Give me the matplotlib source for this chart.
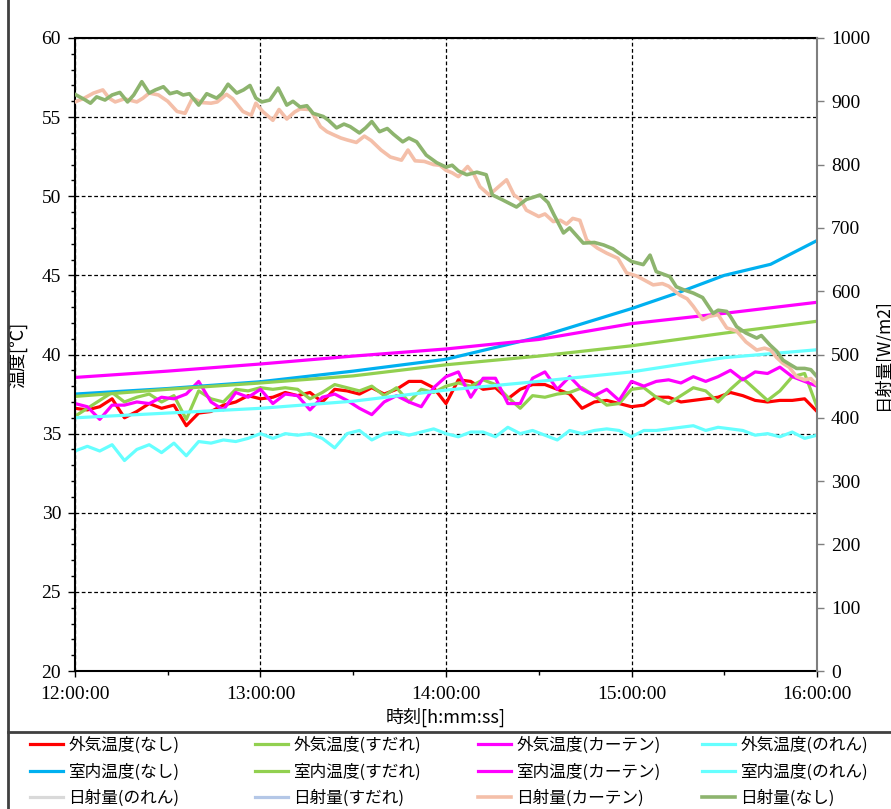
import numpy as np
import pandas as pd
import matplotlib
matplotlib.use('Agg')
import matplotlib.pyplot as plt
import matplotlib.dates as mdates
from matplotlib.lines import Line2D

cjk = ['Noto Sans CJK JP', 'DejaVu Sans']
num_font = 'Liberation Serif'

# outdoor temperatures, sampled every 4 minutes from 12:00
t_out = np.arange(0, 241, 4)
out_none = [36.6, 36.5, 36.7, 37.2, 36.0, 36.4, 36.9, 36.6, 36.8, 35.5, 36.3, 36.4, 36.8, 37.0, 37.4, 37.2,
            37.3, 37.6, 37.4, 37.6, 37.0, 37.8, 37.7, 37.5, 37.9, 37.5, 37.8, 38.3, 38.3, 37.9, 36.9, 38.4,
            38.3, 37.8, 37.9, 37.2, 37.8, 38.1, 38.1, 37.8, 37.5, 36.6, 37.0, 37.1, 36.9, 36.7, 36.8, 37.3,
            37.3, 37.0, 37.1, 37.2, 37.3, 37.6, 37.4, 37.1, 37.0, 37.1, 37.1, 37.2, 36.4]
out_sudare = [36.1, 36.6, 37.1, 37.6, 37.0, 37.3, 37.5, 37.0, 37.4, 35.9, 37.7, 37.2, 37.0, 37.8, 37.7, 37.9,
              37.8, 37.9, 37.8, 37.2, 37.6, 38.1, 37.9, 37.7, 38.0, 37.4, 37.9, 37.0, 37.8, 37.6, 38.0, 38.2,
              38.0, 38.4, 38.1, 37.3, 36.6, 37.4, 37.3, 37.5, 37.6, 37.9, 37.4, 36.8, 36.9, 37.8, 37.9, 37.3,
              36.9, 37.4, 37.9, 37.7, 37.0, 37.8, 38.5, 37.8, 37.1, 37.7, 38.6, 38.8, 36.7]
out_curtain = [36.9, 36.7, 35.9, 36.8, 36.8, 37.0, 36.9, 37.3, 37.2, 37.5, 38.3, 37.0, 36.5, 37.6, 37.3, 37.8,
               36.9, 37.5, 37.4, 36.5, 37.3, 37.5, 37.1, 36.6, 36.2, 37.0, 37.4, 37.0, 36.7, 37.9, 38.6, 38.9,
               37.3, 38.5, 38.5, 36.9, 36.9, 38.5, 38.9, 37.8, 38.6, 37.8, 37.4, 37.8, 37.1, 38.3, 38.0, 38.3,
               38.4, 38.2, 38.6, 38.3, 38.6, 39.0, 38.4, 38.9, 38.8, 39.2, 38.6, 38.3, 38.0]
out_noren = [33.9, 34.2, 33.9, 34.3, 33.3, 34.0, 34.3, 33.8, 34.4, 33.6, 34.5, 34.4, 34.6, 34.5, 34.7, 35.0,
             34.7, 35.0, 34.9, 35.0, 34.7, 34.1, 35.0, 35.2, 34.6, 35.0, 35.1, 34.9, 35.1, 35.3, 35.0, 34.8,
             35.1, 35.1, 34.8, 35.4, 35.0, 35.2, 34.9, 34.6, 35.2, 35.0, 35.2, 35.3, 35.2, 34.8, 35.2, 35.2,
             35.3, 35.4, 35.5, 35.2, 35.4, 35.3, 35.2, 34.9, 35.0, 34.8, 35.1, 34.7, 34.9]

# indoor temperatures
t_in = [0, 30, 60, 90, 120, 150, 180, 210, 240]
in_sudare = [37.35, 37.8, 38.2, 38.65, 39.35, 39.9, 40.55, 41.35, 42.1]
in_curtain = [38.55, 38.95, 39.4, 39.9, 40.35, 40.95, 41.95, 42.6, 43.3]
in_noren = [36.0, 36.3, 36.6, 37.05, 37.75, 38.3, 38.9, 39.8, 40.3]
t_in_none = [0, 30, 60, 90, 120, 150, 180, 195, 210, 225, 232, 240]
in_none = [37.5, 37.85, 38.28, 38.95, 39.7, 41.1, 42.9, 43.9, 45.0, 45.7, 46.4, 47.2]

# solar radiation [W/m2]
t_sol_none = [0, 3, 5, 7, 9.7, 12, 14.5, 17, 19, 21.6, 24, 26, 28.6, 30.7, 33, 35, 37, 40, 42.6, 45.8,
              47.5, 49.5, 52.3, 54.5, 56.6, 58.5, 60.4, 63, 65.7, 68.5, 70.5, 72.8, 75, 77, 80.3, 82, 84.6,
              87, 89, 92, 94, 96, 98.5, 101, 103, 106, 108, 110.5, 113.6, 117, 120, 122, 124, 126.7, 130,
              133, 135, 138, 142.8, 146, 148, 150.4, 153, 155, 158, 160, 164.4, 168, 171, 174, 176, 180,
              183.8, 186, 188, 192.4, 194.5, 197, 200, 203, 206.4, 208, 210.8, 212, 214, 217, 220.5, 222,
              224.8, 227, 229, 231, 233.4, 236, 238, 240]
sol_none = [911, 903, 897, 907, 902, 910, 914, 899, 910, 931, 913, 918, 923, 912, 915, 910, 912, 894, 912, 905,
            912, 927, 913, 918, 925, 905, 899, 902, 921, 894, 900, 891, 893, 881, 876, 870, 858,
            864, 860, 850, 858, 868, 852, 857, 848, 836, 842, 836, 815, 803, 796, 799, 790, 784, 788,
            784, 752, 745, 733, 745, 748, 752, 740, 720, 692, 700, 676, 677, 673, 667, 660, 647,
            642, 657, 631, 623, 607, 602, 597, 590, 565, 570, 568, 560, 544, 534, 526, 530,
            515, 505, 491, 485, 478, 478, 476, 465]
t_sol_curtain = [0, 3, 6, 9, 11, 13, 16, 20, 22, 24, 27, 30, 33, 35.6, 38, 41, 44, 46, 49, 51, 54.3, 57, 58.5,
                 60.7, 64, 66, 68.5, 71, 72.8, 76, 78, 79.4, 81.5, 83.7, 86, 88, 91, 93.6, 95.8, 99, 102,
                 105.6, 107.7, 110, 113, 116, 118, 120, 122, 124, 127, 129, 131, 134, 137, 139.6, 142, 144,
                 146, 150, 152, 154.7, 157, 159, 161, 163.3, 165.5, 169, 172, 175.6, 178.4, 181.7, 184, 187,
                 190, 192, 195.6, 198, 200, 203, 205, 208, 210.8, 214, 217, 220.5, 223, 225, 227, 229, 231,
                 233.4, 236, 238, 240]
sol_curtain = [899, 905, 913, 918, 905, 899, 904, 899, 905, 913, 910, 900, 884, 881, 905, 898, 897, 899, 911, 904,
               884, 878, 897, 884, 870, 887, 872, 883, 888, 887, 872, 860, 852, 847, 842, 839, 835, 845, 838,
               823, 812, 807, 823, 806, 805, 800, 799, 791, 787, 781, 797, 785, 765, 752, 765, 776, 752, 745,
               728, 718, 722, 710, 712, 706, 715, 712, 681, 668, 660, 652, 629, 624, 618, 610, 612, 608, 594,
               588, 576, 555, 560, 563, 542, 537, 520, 507, 510, 507, 495, 486, 480, 465, 460, 462, 452]
sol_noren = []
sol_sudare = []

base = pd.Timestamp('2000-08-01 12:00')


def tm(mins):
    return (base + pd.to_timedelta(np.asarray(mins, dtype=float), unit='m')).to_numpy()


fig = plt.figure(figsize=(8.91, 8.09), dpi=100)
ax = fig.add_axes([75 / 891, 1 - 671 / 809, 742 / 891, 633 / 809])
ax2 = ax.twinx()

lw = 2.3
h = {}
h['out_none'], = ax.plot(tm(t_out), out_none, color='#ff0000', lw=lw, label='外気温度(なし)')
h['out_sudare'], = ax.plot(tm(t_out), out_sudare, color='#92d050', lw=lw, label='外気温度(すだれ)')
h['out_curtain'], = ax.plot(tm(t_out), out_curtain, color='#ff00ff', lw=lw, label='外気温度(カーテン)')
h['out_noren'], = ax.plot(tm(t_out), out_noren, color='#66ffff', lw=lw, label='外気温度(のれん)')
h['in_none'], = ax.plot(tm(t_in_none), in_none, color='#00b0f0', lw=lw, label='室内温度(なし)')
h['in_sudare'], = ax.plot(tm(t_in), in_sudare, color='#92d050', lw=lw, label='室内温度(すだれ)')
h['in_curtain'], = ax.plot(tm(t_in), in_curtain, color='#ff00ff', lw=lw, label='室内温度(カーテン)')
h['in_noren'], = ax.plot(tm(t_in), in_noren, color='#66ffff', lw=lw, label='室内温度(のれん)')

h['sol_noren'], = ax2.plot(tm(sol_noren), sol_noren, color='#d9d9d9', lw=lw, label='日射量(のれん)')
h['sol_sudare'], = ax2.plot(tm(sol_sudare), sol_sudare, color='#b4c7e7', lw=lw, label='日射量(すだれ)')
h['sol_curtain'], = ax2.plot(tm(t_sol_curtain), sol_curtain, color='#f4bfa9', lw=2.6, label='日射量(カーテン)')
h['sol_none'], = ax2.plot(tm(t_sol_none), sol_none, color='#8db46e', lw=2.6, label='日射量(なし)')

ax.set_xlim(tm([0, 240]))
ax.set_ylim(20, 60)
ax.set_yticks(np.arange(20, 61, 5))
ax.yaxis.set_minor_locator(matplotlib.ticker.MultipleLocator(1))
ax.xaxis.set_major_locator(mdates.HourLocator())
ax.xaxis.set_minor_locator(mdates.MinuteLocator(byminute=[30]))
ax.xaxis.set_major_formatter(mdates.DateFormatter('%H:%M:%S'))
ax.grid(True, which='major', color='black', linestyle=(0, (3, 2)), linewidth=0.9)

ax2.set_ylim(0, 1000)
ax2.set_yticks(np.arange(0, 1001, 100))

ax.tick_params(axis='both', which='both', labelfontfamily=num_font, labelsize=14)
ax2.tick_params(axis='y', labelfontfamily=num_font, labelsize=14)
ax.tick_params(axis='y', which='major', direction='out', length=5, width=1, pad=5)
ax.tick_params(axis='y', which='minor', direction='out', length=3, width=1)
ax.tick_params(axis='x', which='major', direction='out', length=4, width=1, pad=7)
ax.tick_params(axis='x', which='minor', direction='out', length=3, width=1)
ax2.tick_params(axis='y', direction='out', length=5, width=1, color='#7f7f7f', pad=5)

for s in ['left', 'bottom', 'top']:
    ax.spines[s].set_linewidth(1.5)
    ax.spines[s].set_color('black')
ax.spines['right'].set_visible(False)
for s in ['left', 'bottom', 'top']:
    ax2.spines[s].set_visible(False)
ax2.spines['right'].set_color('#7f7f7f')
ax2.spines['right'].set_linewidth(1.5)

ax.set_ylabel('温度[℃]', family=cjk, fontsize=13)
ax.yaxis.set_label_coords(-0.064, 0.5)
ax.set_xlabel('時刻[h:mm:ss]', family=cjk, fontsize=13)
ax.xaxis.set_label_coords(0.5, -0.058)
ax2.set_ylabel('日射量[W/m2]', family=cjk, fontsize=12.5)
ax2.yaxis.set_label_coords(1.075, 0.5)

# legend: four columns at fixed positions
columns = [['out_none', 'in_none', 'sol_noren'],
           ['out_sudare', 'in_sudare', 'sol_sudare'],
           ['out_curtain', 'in_curtain', 'sol_curtain'],
           ['out_noren', 'in_noren', 'sol_none']]
col_x = [30, 255, 478, 702]
for x, keys in zip(col_x, columns):
    handles = [h[k] for k in keys]
    fig.legend(handles=handles, labels=[hh.get_label() for hh in handles],
               loc='upper left', bbox_to_anchor=(x / 891, 1 - 737 / 809),
               frameon=False, borderpad=0, borderaxespad=0, handlelength=2.0,
               handletextpad=0.3, labelspacing=0.55, prop={'family': cjk, 'size': 12})

# frame around the chart and the legend area
fig.add_artist(Line2D([8 / 891, 8 / 891], [0, 1], transform=fig.transFigure, color='#404040', lw=2))
fig.add_artist(Line2D([8 / 891, 1], [1 - 732 / 809] * 2, transform=fig.transFigure, color='#404040', lw=2))

fig.savefig('out.png', dpi=100)
